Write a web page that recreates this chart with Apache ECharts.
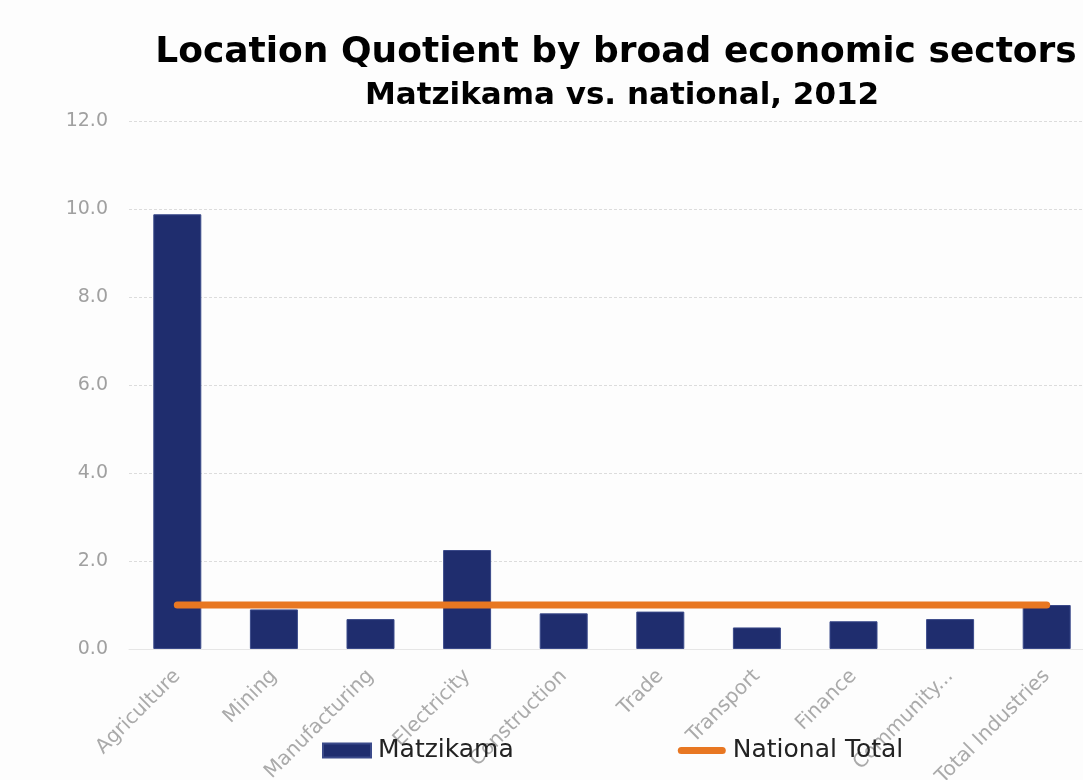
<!DOCTYPE html>
<html>
<head>
<meta charset="utf-8">
<script src="https://cdn.jsdelivr.net/npm/echarts@6/dist/echarts.min.js"></script>
<style>
  html, body { margin: 0; padding: 0; background: #fdfdfd; }
  #chart { width: 1083px; height: 780px; }
</style>
</head>
<body>
<div id="chart"></div>
<script>
// sectors shown on the x axis
const sectors = ['Agriculture', 'Mining', 'Manufacturing', 'Electricity', 'Construction',
  'Trade', 'Transport', 'Finance', 'Community...', 'Total Industries']
// location quotient of Matzikama, 2012
const matzikama = [9.88, 0.90, 0.68, 2.25, 0.81, 0.85, 0.49, 0.63, 0.68, 1.0]
// national benchmark
const nationalTotal = [1, 1, 1, 1, 1, 1, 1, 1, 1, 1]

const chart = echarts.init(document.getElementById('chart'))
chart.setOption({
  backgroundColor: '#fdfdfd',
  animation: false,
  title: [
    {
      text: 'Location Quotient by broad economic sectors',
      left: 611, top: 30, textAlign: 'center',
      textStyle: { fontFamily: 'DejaVu Sans', fontWeight: 'bold', fontSize: 36, color: '#000' }
    },
    {
      text: 'Matzikama vs. national, 2012',
      left: 617, top: 75, textAlign: 'center',
      textStyle: { fontFamily: 'DejaVu Sans', fontWeight: 'bold', fontSize: 31, color: '#000' }
    }
  ],
  legend: {
    bottom: 12,
    left: 317,
    itemWidth: 48,
    itemHeight: 14,
    itemGap: 164,
    textStyle: { fontFamily: 'DejaVu Sans', fontSize: 25, color: '#222', padding: [0, 0, 0, 2] },
    data: [
      { name: 'Matzikama', icon: 'rect' },
      { name: 'National Total', icon: 'path://M3.5,0 h41 a3.5,3.5 0 0 1 0,7 h-41 a3.5,3.5 0 0 1 0,-7z' }
    ]
  },
  grid: { left: 129, right: -12, top: 121, bottom: 131, outerBoundsMode: 'none' },
  xAxis: {
    type: 'category',
    data: sectors,
    axisLine: { lineStyle: { color: '#e6e6e6' } },
    axisTick: { lineStyle: { color: '#e6e6e6' }, length: 10 },
    axisLabel: {
      rotate: 45, fontFamily: 'DejaVu Sans', fontSize: 20, color: '#aaa', margin: 24
    }
  },
  yAxis: {
    type: 'value',
    min: 0, max: 12, interval: 2,
    axisLine: { show: false },
    axisTick: { show: false },
    axisLabel: {
      fontFamily: 'DejaVu Sans', fontSize: 19, color: '#a0a0a0', margin: 21,
      formatter: v => v.toFixed(1)
    },
    splitLine: { lineStyle: { color: '#dcdcdc', type: [3, 2] } }
  },
  series: [
    {
      name: 'Matzikama',
      type: 'bar',
      data: matzikama,
      barWidth: 48,
      itemStyle: { color: '#1f2d6e', borderColor: '#3b4a8a', borderWidth: 1 }
    },
    {
      name: 'National Total',
      type: 'line',
      data: nationalTotal,
      symbol: 'none',
      z: 5,
      lineStyle: { color: '#e87722', width: 7, cap: 'round' },
      itemStyle: { color: '#e87722' }
    }
  ]
})
</script>
</body>
</html>
